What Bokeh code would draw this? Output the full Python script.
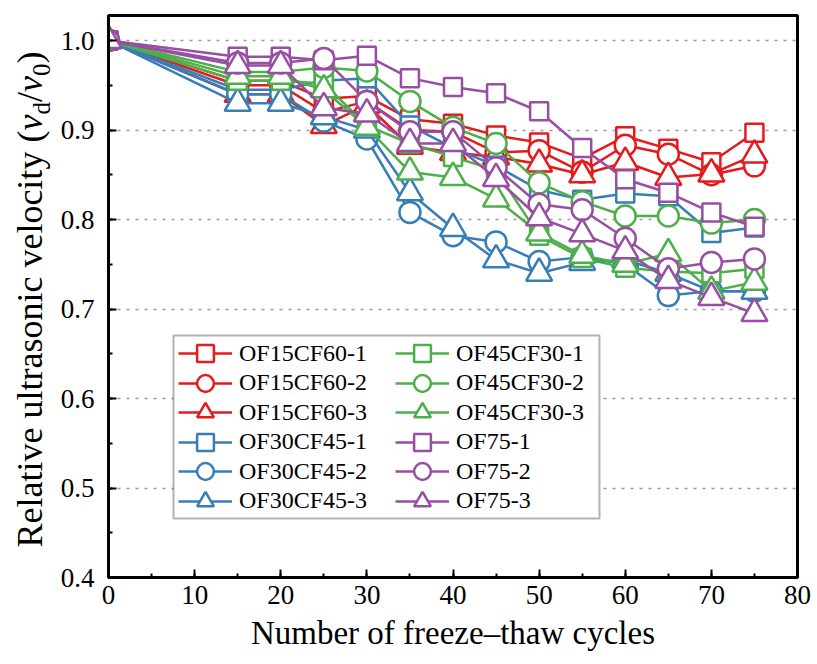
import math
from bokeh.plotting import figure
from bokeh.layouts import row
from bokeh.models import (Legend, LegendItem, Label, SingleIntervalTicker, NumeralTickFormatter,
                          Range1d, BoxAnnotation)
from bokeh.embed import file_html
from bokeh.resources import INLINE

cycles = [0, 15, 20, 25, 30, 35, 40, 45, 50, 55, 60, 65, 70, 75]

of15cf60_1 = [1.0, 0.955, 0.955, 0.935, 0.938, 0.912, 0.907, 0.894, 0.886, 0.868, 0.893, 0.879, 0.864, 0.897]
of15cf60_2 = [1.0, 0.950, 0.950, 0.920, 0.932, 0.900, 0.898, 0.875, 0.877, 0.853, 0.883, 0.873, 0.850, 0.860]
of15cf60_3 = [1.0, 0.940, 0.940, 0.905, 0.928, 0.882, 0.875, 0.870, 0.862, 0.850, 0.864, 0.847, 0.851, 0.872]
of30cf45_1 = [1.0, 0.945, 0.945, 0.955, 0.958, 0.905, 0.880, 0.860, 0.833, 0.822, 0.829, 0.826, 0.785, 0.791]
of30cf45_2 = [1.0, 0.940, 0.940, 0.910, 0.890, 0.808, 0.782, 0.775, 0.753, 0.758, 0.750, 0.715, 0.720, 0.720]
of30cf45_3 = [1.0, 0.930, 0.930, 0.915, 0.900, 0.830, 0.790, 0.755, 0.740, 0.752, 0.755, 0.740, 0.720, 0.720]
of45cf30_1 = [1.0, 0.955, 0.955, 0.952, 0.905, 0.885, 0.870, 0.855, 0.782, 0.757, 0.746, 0.742, 0.740, 0.745]
of45cf30_2 = [1.0, 0.965, 0.965, 0.970, 0.966, 0.932, 0.903, 0.885, 0.841, 0.820, 0.804, 0.804, 0.796, 0.800]
of45cf30_3 = [1.0, 0.960, 0.960, 0.945, 0.903, 0.853, 0.847, 0.823, 0.785, 0.760, 0.750, 0.762, 0.720, 0.730]
of75_1 = [1.0, 0.982, 0.982, 0.978, 0.983, 0.958, 0.948, 0.941, 0.921, 0.880, 0.845, 0.830, 0.808, 0.792]
of75_2 = [1.0, 0.975, 0.975, 0.980, 0.932, 0.898, 0.898, 0.858, 0.817, 0.811, 0.779, 0.745, 0.752, 0.756]
of75_3 = [1.0, 0.972, 0.972, 0.925, 0.918, 0.885, 0.885, 0.846, 0.802, 0.784, 0.765, 0.732, 0.713, 0.695]

names = ["OF15CF60-1", "OF15CF60-2", "OF15CF60-3",
         "OF30CF45-1", "OF30CF45-2", "OF30CF45-3",
         "OF45CF30-1", "OF45CF30-2", "OF45CF30-3",
         "OF75-1", "OF75-2", "OF75-3"]
series = [of15cf60_1, of15cf60_2, of15cf60_3,
          of30cf45_1, of30cf45_2, of30cf45_3,
          of45cf30_1, of45cf30_2, of45cf30_3,
          of75_1, of75_2, of75_3]

RED, BLUE, GREEN, PURPLE = "#E41A1C", "#377EB8", "#4DAF4A", "#984EA3"
colors = [RED] * 3 + [BLUE] * 3 + [GREEN] * 3 + [PURPLE] * 3
markers = ["square", "circle", "triangle"] * 4
msize = {"square": 18, "circle": 21, "triangle": 26}

FONT = "Liberation Serif"
W, H = 817, 664
LW = 55                                      # width of the y-label strip

X0, X1, Y0, Y1 = 0, 80, 0.4, 1.028
FL, FR, FT, FB = 108, 797, 15, 577          # frame edges in page pixels
sx = (FR - FL) / (X1 - X0)
sy = (FB - FT) / (Y1 - Y0)

def dx(px):   # page px -> data x
    return X0 + (px - FL) / sx

def dy(py):   # page px -> data y
    return Y0 + (FB - py) / sy

yr = Range1d(Y0, Y1)
p = figure(width=W - LW, height=H, output_backend="svg", toolbar_location=None,
           x_range=Range1d(X0, X1), y_range=yr,
           min_border_left=FL - LW, min_border_right=W - FR, min_border_top=FT,
           min_border_bottom=H - FB)
p.background_fill_color = "white"
p.border_fill_color = "white"
p.outline_line_color = "black"
p.outline_line_width = 3

p.xaxis.ticker = SingleIntervalTicker(interval=10, num_minor_ticks=2)
p.yaxis.ticker = SingleIntervalTicker(interval=0.1, num_minor_ticks=2)
p.yaxis.formatter = NumeralTickFormatter(format="0.0")
for ax in (p.xaxis[0], p.yaxis[0]):
    ax.axis_line_color = "black"
    ax.axis_line_width = 3
    ax.major_tick_in = 8
    ax.major_tick_out = 0
    ax.minor_tick_in = 4
    ax.minor_tick_out = 0
    ax.major_tick_line_width = 2
    ax.minor_tick_line_width = 2
    ax.major_tick_line_color = "black"
    ax.minor_tick_line_color = "black"
    ax.major_label_text_font = FONT
    ax.major_label_text_font_size = "27px"
    ax.major_label_text_color = "black"
p.xaxis.major_label_standoff = 8
p.yaxis.major_label_standoff = 14
p.xaxis.axis_label = "Number of freeze\u2013thaw cycles"
p.xaxis.axis_label_text_font = FONT
p.xaxis.axis_label_text_font_size = "33px"
p.xaxis.axis_label_text_font_style = "normal"
p.xaxis.axis_label_text_color = "black"
p.xaxis.axis_label_standoff = 8

p.xgrid.grid_line_color = None
p.ygrid.grid_line_color = "#9a9a9a"
p.ygrid.grid_line_dash = "3 6"
p.ygrid.grid_line_width = 1.5

items = []
for name, ys, c, m in zip(names, series, colors, markers):
    ln = p.line(cycles, ys, line_color=c, line_width=2.5)
    sc = p.scatter(cycles, ys, marker=m, size=msize[m], line_color=c, line_width=2.5,
                   fill_color="white")
    items.append(LegendItem(label=name, renderers=[ln, sc]))

# legend frame
p.add_layout(BoxAnnotation(left=dx(173), right=dx(599), top=dy(335), bottom=dy(518),
                           fill_color="white", fill_alpha=1.0,
                           line_color="black", line_width=2))

# legend entries: two columns of six
GH = 42
col_x = [178, 395]
row_c = [353 + 29.5 * i for i in range(6)]
for k, it in enumerate(items):
    col, rw = divmod(k, 6)
    lg = Legend(items=[it], location=(col_x[col] - FL, FB - row_c[rw] - GH / 2),
                glyph_width=54, glyph_height=GH, spacing=0, padding=0, margin=0,
                label_standoff=7, label_text_font=FONT, label_text_font_size="24px",
                label_text_color="black", label_text_baseline="middle",
                border_line_alpha=0, background_fill_alpha=0)
    p.add_layout(lg, "center")

# y-axis label strip (separate narrow canvas, frame aligned with the main plot)
lab = figure(width=LW, height=H, output_backend="svg", toolbar_location=None,
             x_range=Range1d(0, LW), y_range=yr,
             x_axis_type=None, y_axis_type=None, min_border=0,
             min_border_top=FT, min_border_bottom=H - FB)
lab.outline_line_color = None
lab.xgrid.grid_line_color = None
lab.ygrid.grid_line_color = None
lab.background_fill_color = "white"
lab.border_fill_color = "white"

# (text, style, font px, baseline shift px, advance width per 1000 em)
pieces = [("Relative ultrasonic velocity (", "normal", 36, 0, 11582),
          ("v", "italic", 36, 0, 444),
          ("d", "normal", 25, 7, 500),
          ("/", "normal", 36, 0, 278),
          ("v", "italic", 36, 0, 444),
          ("0", "normal", 25, 7, 500),
          (")", "normal", 36, 0, 333)]
base_px = 42          # baseline position in page px
pos_py = 547.0        # start of text in page px
for txt, style, fs, off, w in pieces:
    centre = base_px + off - (0.891 - 0.216) / 2 * fs
    lab.add_layout(Label(x=centre, y=dy(pos_py), text=txt,
                         angle=math.pi / 2, text_align="left", text_baseline="middle",
                         text_font=FONT, text_font_size=f"{fs}px", text_font_style=style,
                         text_color="black"))
    pos_py -= w * fs / 1000.0

layout = row(lab, p, spacing=0)
open("out.html", "w").write(file_html(layout, INLINE))
